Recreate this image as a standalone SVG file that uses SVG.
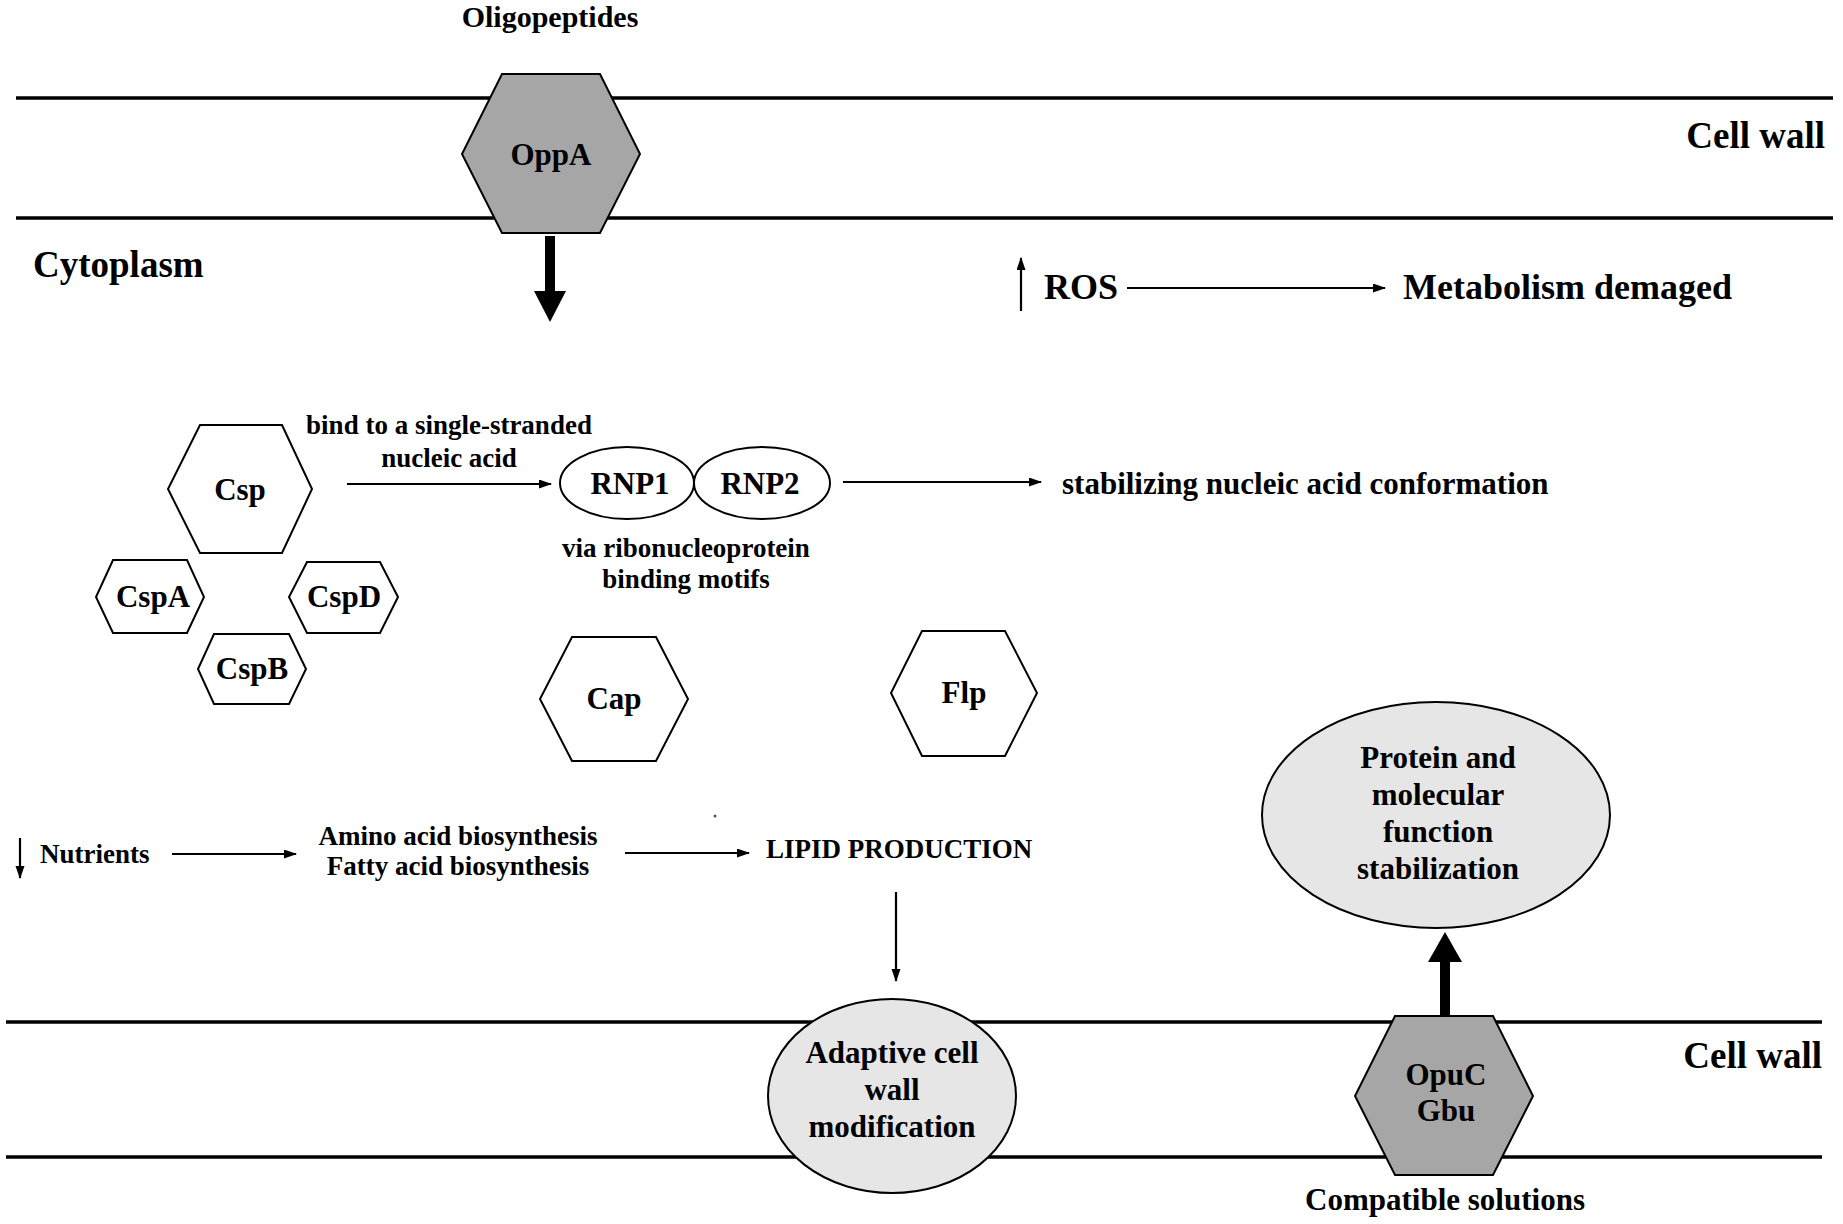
<svg xmlns="http://www.w3.org/2000/svg" width="1843" height="1224" viewBox="0 0 1843 1224">
<defs>
<style>
text{font-family:"Liberation Serif","Times New Roman",serif;font-weight:bold;fill:#000}
.c{text-anchor:middle}
.membrane{stroke:#000;stroke-width:3.5;fill:none}
.hex{fill:#fff;stroke:#000;stroke-width:2}
.dark{fill:#a6a6a6;stroke:#000;stroke-width:2}
.oval{fill:#e6e6e6;stroke:#000;stroke-width:2}
.ell{fill:#fff;stroke:#000;stroke-width:2}
.thin{stroke:#000;stroke-width:2.2;fill:none;marker-end:url(#ah)}
.thick{stroke:#000;stroke-width:10;fill:none}
.t37{font-size:37px}.t36{font-size:36px}.t31{font-size:31px}.t30{font-size:30px}.t27{font-size:27px}
</style>
<marker id="ah" markerUnits="userSpaceOnUse" markerWidth="13" markerHeight="10" refX="12" refY="4.5" orient="auto">
<path d="M0,0 L13,4.5 L0,9 z" fill="#000"/>
</marker>
</defs>
<rect width="1843" height="1224" fill="#fff"/>

<g id="membranes">
<line class="membrane" x1="16" y1="98" x2="1833" y2="98"/>
<line class="membrane" x1="16" y1="218" x2="1833" y2="218"/>
<line class="membrane" x1="6" y1="1022" x2="1822" y2="1022"/>
<line class="membrane" x1="6" y1="1157" x2="1822" y2="1157"/>
</g>

<g id="labels">
<text class="t30 c" x="550" y="27">Oligopeptides</text>
<text class="t37" x="1825" y="148" text-anchor="end">Cell wall</text>
<text class="t37" x="33" y="277">Cytoplasm</text>
<text class="t37" x="1822" y="1068" text-anchor="end">Cell wall</text>
<text class="t31 c" x="1445" y="1210">Compatible solutions</text>
<text class="t27 c" x="449" y="434">bind to a single-stranded</text>
<text class="t27 c" x="449" y="467">nucleic acid</text>
<text class="t27 c" x="686" y="557">via ribonucleoprotein</text>
<text class="t27 c" x="686" y="588">binding motifs</text>
<circle cx="715" cy="816" r="1.5" fill="#555"/>
</g>

<g id="connectors">
<line class="thick" x1="550" y1="236" x2="550" y2="294"/>
<polygon points="534,291 566,291 550,322" fill="#000"/>
<line class="thick" x1="1445" y1="1016" x2="1445" y2="958"/>
<polygon points="1428,962 1462,962 1445,932" fill="#000"/>
<line class="thin" x1="1021" y1="311" x2="1021" y2="258"/>
<line class="thin" x1="1127" y1="288" x2="1385" y2="288"/>
<line class="thin" x1="347" y1="484" x2="551" y2="484"/>
<line class="thin" x1="843" y1="482" x2="1041" y2="482"/>
<line class="thin" x1="20" y1="838" x2="20" y2="878"/>
<line class="thin" x1="172" y1="854" x2="296" y2="854"/>
<line class="thin" x1="625" y1="853" x2="749" y2="853"/>
<line class="thin" x1="896" y1="892" x2="896" y2="981"/>
</g>

<g id="ros">
<text class="t36" x="1044" y="299">ROS</text>
</g>
<g id="metabolism">
<text class="t36" x="1403" y="299">Metabolism demaged</text>
</g>

<g id="oppa">
<polygon class="dark" points="502,74 600,74 640,154 600,233 502,233 462,154"/>
<text class="t31 c" x="551" y="165">OppA</text>
</g>

<g id="csp">
<polygon class="hex" points="200,425 282,425 312,489 282,553 200,553 168,489"/>
<text class="t31 c" x="240" y="500">Csp</text>
</g>
<g id="cspa">
<polygon class="hex" points="113,560 187,560 204,597 187,633 113,633 96,597"/>
<text class="t31 c" x="153" y="607">CspA</text>
</g>
<g id="cspd">
<polygon class="hex" points="307,562 380,562 398,597 380,633 307,633 289,597"/>
<text class="t31 c" x="344" y="607">CspD</text>
</g>
<g id="cspb">
<polygon class="hex" points="214,634 289,634 306,669 289,704 214,704 198,669"/>
<text class="t31 c" x="252" y="679">CspB</text>
</g>

<g id="rnp1">
<ellipse class="ell" cx="627" cy="483" rx="67" ry="36"/>
<text class="t31 c" x="630" y="494">RNP1</text>
</g>
<g id="rnp2">
<ellipse class="ell" cx="762" cy="483" rx="68" ry="36"/>
<text class="t31 c" x="760" y="494">RNP2</text>
</g>

<g id="stabilizing">
<text class="t31" x="1062" y="494">stabilizing nucleic acid conformation</text>
</g>

<g id="cap">
<polygon class="hex" points="572,637 656,637 688,699 656,761 572,761 540,699"/>
<text class="t31 c" x="614" y="709">Cap</text>
</g>
<g id="flp">
<polygon class="hex" points="922,631 1005,631 1037,693 1005,756 922,756 891,693"/>
<text class="t31 c" x="964" y="703">Flp</text>
</g>

<g id="nutrients">
<text class="t27" x="40" y="863">Nutrients</text>
</g>
<g id="biosynthesis">
<text class="t27 c" x="458" y="845">Amino acid biosynthesis</text>
<text class="t27 c" x="458" y="875">Fatty acid biosynthesis</text>
</g>
<g id="lipid">
<text class="t27" x="766" y="858">LIPID PRODUCTION</text>
</g>

<g id="protein">
<ellipse class="oval" cx="1436" cy="815" rx="174" ry="113"/>
<text class="t31 c" x="1438" y="768">Protein and</text>
<text class="t31 c" x="1438" y="805">molecular</text>
<text class="t31 c" x="1438" y="842">function</text>
<text class="t31 c" x="1438" y="879">stabilization</text>
</g>

<g id="adaptive">
<ellipse class="oval" cx="892" cy="1096" rx="124" ry="97"/>
<text class="t31 c" x="892" y="1063">Adaptive cell</text>
<text class="t31 c" x="892" y="1100">wall</text>
<text class="t31 c" x="892" y="1137">modification</text>
</g>

<g id="opuc">
<polygon class="dark" points="1395,1016 1493,1016 1533,1096 1493,1175 1395,1175 1355,1096"/>
<text class="t31 c" x="1446" y="1085">OpuC</text>
<text class="t31 c" x="1446" y="1121">Gbu</text>
</g>
</svg>
